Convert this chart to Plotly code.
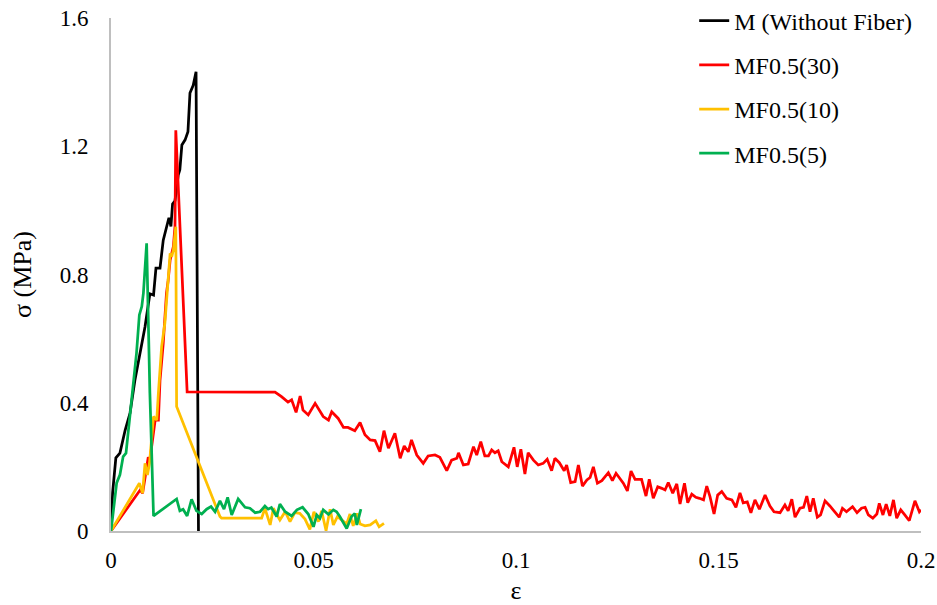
import plotly.graph_objects as go

# ---- data ----
series_names = ["M (Without Fiber)", "MF0.5(30)", "MF0.5(10)", "MF0.5(5)"]
series_colors = ["#000000", "#FF0000", "#FFC000", "#00B050"]

m_x = [0, 0.0004, 0.0012, 0.0022, 0.0035, 0.0047, 0.0059, 0.0072, 0.0084, 0.0096,
       0.0105, 0.0111, 0.0121, 0.0129, 0.0137, 0.0143, 0.0148, 0.0152, 0.0158, 0.0166,
       0.017, 0.0175, 0.0183, 0.019, 0.0195, 0.0203, 0.021, 0.0216]
m_y = [0, 0.12, 0.228, 0.243, 0.315, 0.368, 0.47, 0.555, 0.637, 0.74,
       0.736, 0.82, 0.82, 0.907, 0.95, 0.977, 0.95, 1.02, 1.03, 1.11,
       1.127, 1.204, 1.22, 1.245, 1.366, 1.39, 1.432, 0]

mf30_x = [0, 0.0072, 0.0078, 0.0092, 0.0096, 0.0109, 0.0117, 0.0121, 0.0129, 0.0137,
          0.0141, 0.0146, 0.0154, 0.0158, 0.016, 0.0188, 0.0405, 0.0421, 0.0437, 0.0446,
          0.0457, 0.0467, 0.0474, 0.0487, 0.0504, 0.0524, 0.0537, 0.0545, 0.0561, 0.0574,
          0.0585, 0.0602, 0.0615, 0.0627, 0.064, 0.0652, 0.0664, 0.0674, 0.0685, 0.0701,
          0.0714, 0.0724, 0.0734, 0.0742, 0.0755, 0.0771, 0.0783, 0.08, 0.0812, 0.0829,
          0.0841, 0.0854, 0.0858, 0.087, 0.0882, 0.0895, 0.0903, 0.0913, 0.0923, 0.0932,
          0.094, 0.0948, 0.0956, 0.0965, 0.0981, 0.0995, 0.1003, 0.1012, 0.1022, 0.103,
          0.1043, 0.1055, 0.1067, 0.1077, 0.1088, 0.1096, 0.1107, 0.1119, 0.1125, 0.1135,
          0.1146, 0.1154, 0.1164, 0.1175, 0.1183, 0.1191, 0.1201, 0.1212, 0.1228, 0.1238,
          0.1247, 0.1257, 0.1265, 0.1275, 0.1284, 0.1294, 0.131, 0.1321, 0.1329, 0.1339,
          0.135, 0.136, 0.1368, 0.1376, 0.1387, 0.1397, 0.1405, 0.1416, 0.1424, 0.1434,
          0.1444, 0.1453, 0.1463, 0.1471, 0.1479, 0.1489, 0.1498, 0.1508, 0.152, 0.1533,
          0.1543, 0.1553, 0.1561, 0.1571, 0.158, 0.159, 0.1601, 0.1615, 0.1627, 0.1637,
          0.1652, 0.1664, 0.1672, 0.1681, 0.1689, 0.1701, 0.171, 0.1718, 0.1726, 0.1734,
          0.1744, 0.1752, 0.1763, 0.1775, 0.1788, 0.1798, 0.1806, 0.1816, 0.1831, 0.1842,
          0.1853, 0.1862, 0.187, 0.1881, 0.1891, 0.1897, 0.1906, 0.1914, 0.1923, 0.1932,
          0.194, 0.195, 0.196, 0.1971, 0.1985, 0.1996, 0.2]
mf30_y = [0, 0.128, 0.118, 0.23, 0.221, 0.346, 0.346, 0.47, 0.586, 0.742,
          0.78, 0.845, 0.887, 0.95, 1.25, 0.434, 0.433, 0.419, 0.402, 0.409,
          0.37, 0.421, 0.377, 0.362, 0.398, 0.357, 0.346, 0.372, 0.351, 0.323,
          0.323, 0.313, 0.338, 0.3, 0.284, 0.282, 0.247, 0.313, 0.258, 0.305,
          0.227, 0.265, 0.247, 0.284, 0.237, 0.211, 0.234, 0.237, 0.23, 0.188,
          0.221, 0.227, 0.244, 0.206, 0.209, 0.263, 0.237, 0.279, 0.234, 0.234,
          0.253, 0.244, 0.25, 0.216, 0.2, 0.261, 0.2, 0.255, 0.178, 0.244,
          0.221, 0.206, 0.211, 0.224, 0.188, 0.227, 0.213, 0.188, 0.206, 0.151,
          0.154, 0.206, 0.14, 0.159, 0.167, 0.2, 0.149, 0.157, 0.182, 0.157,
          0.18, 0.164, 0.149, 0.125, 0.187, 0.161, 0.161, 0.109, 0.161, 0.102,
          0.138, 0.133, 0.128, 0.151, 0.118, 0.147, 0.084, 0.149, 0.088, 0.115,
          0.105, 0.102, 0.097, 0.14, 0.107, 0.053, 0.112, 0.123, 0.102, 0.097,
          0.074, 0.119, 0.088, 0.091, 0.057, 0.097, 0.068, 0.112, 0.078, 0.06,
          0.057, 0.081, 0.063, 0.099, 0.043, 0.071, 0.074, 0.109, 0.06, 0.102,
          0.043, 0.05, 0.094, 0.078, 0.06, 0.043, 0.071, 0.06, 0.076, 0.057,
          0.071, 0.074, 0.05, 0.04, 0.053, 0.086, 0.05, 0.084, 0.047, 0.097,
          0.04, 0.066, 0.05, 0.032, 0.094, 0.06, 0.066]

mf10_x = [0, 0.007, 0.0078, 0.0084, 0.009, 0.0095, 0.0105, 0.0113, 0.0117, 0.0125,
          0.0133, 0.0139, 0.0142, 0.0146, 0.015, 0.0154, 0.016, 0.0162, 0.0269, 0.0273,
          0.0372, 0.038, 0.0393, 0.0401, 0.0417, 0.043, 0.0442, 0.0454, 0.0466, 0.0479,
          0.0491, 0.0501, 0.0512, 0.052, 0.0531, 0.0541, 0.0549, 0.0559, 0.057, 0.0582,
          0.059, 0.0598, 0.0608, 0.0615, 0.0627, 0.064, 0.0654, 0.0662, 0.0674]
mf10_y = [0, 0.149, 0.118, 0.211, 0.175, 0.211, 0.357, 0.346, 0.43, 0.575,
          0.648, 0.741, 0.783, 0.866, 0.856, 0.876, 0.949, 0.388, 0.045, 0.04,
          0.04, 0.071, 0.019, 0.071, 0.034, 0.06, 0.029, 0.057, 0.055, 0.037,
          0.005, 0.06, 0.029, 0.063, 0.001, 0.068, 0.019, 0.045, 0.034, 0.022,
          0.053, 0.016, 0.055, 0.022, 0.016, 0.019, 0.032, 0.013, 0.024]

mf5_x = [0, 0.0014, 0.0022, 0.003, 0.0037, 0.0047, 0.0055, 0.0063, 0.007, 0.0076,
         0.008, 0.0088, 0.0096, 0.0105, 0.0162, 0.017, 0.0178, 0.0188, 0.0199, 0.0211,
         0.0224, 0.0236, 0.0247, 0.0257, 0.0269, 0.0279, 0.0288, 0.0298, 0.0314, 0.0331,
         0.0343, 0.0356, 0.0368, 0.038, 0.0388, 0.0396, 0.0409, 0.0417, 0.043, 0.0446,
         0.0459, 0.0473, 0.0487, 0.05, 0.0508, 0.0516, 0.0524, 0.0537, 0.0549, 0.0557,
         0.0565, 0.0582, 0.0594, 0.0602, 0.0607, 0.0617]
mf5_y = [0, 0.15, 0.175, 0.232, 0.243, 0.368, 0.45, 0.555, 0.674, 0.7,
         0.742, 0.897, 0.43, 0.047, 0.1, 0.063, 0.068, 0.047, 0.099, 0.063,
         0.053, 0.068, 0.076, 0.06, 0.094, 0.068, 0.105, 0.05, 0.1, 0.074,
         0.071, 0.057, 0.06, 0.078, 0.068, 0.073, 0.045, 0.084, 0.06, 0.047,
         0.066, 0.074, 0.053, 0.013, 0.05, 0.04, 0.066, 0.052, 0.066, 0.06,
         0.045, 0.008, 0.045, 0.055, 0.019, 0.068]

x_tick_vals = [0, 0.05, 0.1, 0.15, 0.2]
x_tick_text = ["0", "0.05", "0.1", "0.15", "0.2"]
y_tick_vals = [0, 0.4, 0.8, 1.2, 1.6]
y_tick_text = ["0", "0.4", "0.8", "1.2", "1.6"]
x_title = "ε"
y_title = "σ (MPa)"

# ---- figure ----
FONT = "Times New Roman"
xs = [m_x, mf30_x, mf10_x, mf5_x]
ys = [m_y, mf30_y, mf10_y, mf5_y]

fig = go.Figure()
for i, (name, color, x, y) in enumerate(zip(series_names, series_colors, xs, ys)):
    fig.add_trace(go.Scatter(
        x=x, y=y, mode="lines", name=name, legendgroup=f"g{i}",
        line=dict(color=color, width=2.75),
    ))

fig.update_layout(
    width=937, height=605,
    margin=dict(l=111, r=16, t=18, b=74, autoexpand=False),
    paper_bgcolor="white", plot_bgcolor="white",
    font=dict(family=FONT, size=23, color="#000000"),
    showlegend=True,
    legend=dict(
        x=0.72, y=1.038, xanchor="left", yanchor="top",
        font=dict(family=FONT, size=24, color="#000000"),
        bgcolor="rgba(0,0,0,0)", tracegroupgap=10,
    ),
    xaxis=dict(
        range=[0, 0.2], tickvals=x_tick_vals, ticktext=x_tick_text,
        showgrid=False, zeroline=False, showline=True, automargin=False,
        linecolor="#BFBFBF", linewidth=2, ticks="", ticklabeloverflow="allow",
        ticklabelstandoff=7, tickfont=dict(family=FONT, size=23),
        title=dict(text=x_title, standoff=34, font=dict(family=FONT, size=26)),
    ),
    yaxis=dict(
        range=[0, 1.6], tickvals=y_tick_vals, ticktext=y_tick_text,
        showgrid=False, zeroline=False, showline=True, automargin=False,
        linecolor="#BFBFBF", linewidth=2, ticks="", ticklabeloverflow="allow",
        ticklabelstandoff=16, tickfont=dict(family=FONT, size=23),
        title=dict(text=y_title, standoff=21, font=dict(family=FONT, size=26)),
    ),
)

# remove the default page margin so the 937x605 figure fills the window exactly
fig.write_html(
    "out.html",
    config={"displayModeBar": False},
    post_script="document.body.style.margin='0';",
)
